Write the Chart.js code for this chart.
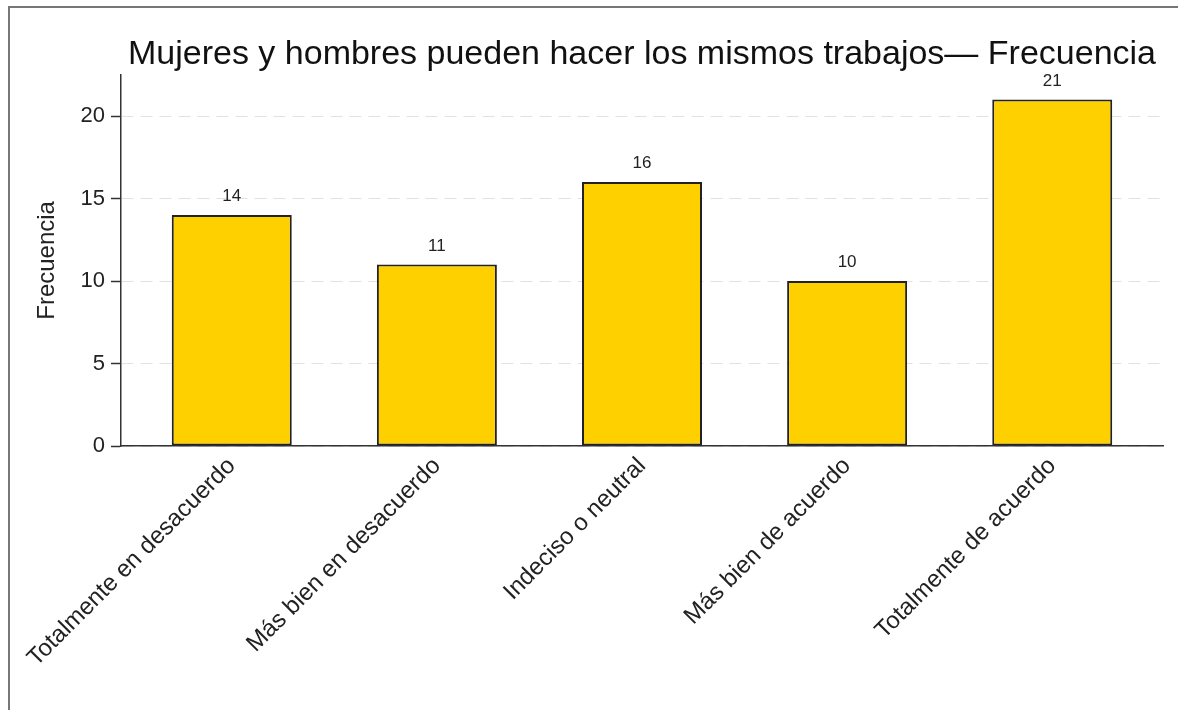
<!DOCTYPE html>
<html>
<head>
<meta charset="utf-8">
<script src="https://cdn.jsdelivr.net/npm/chart.js"></script>
<style>
    html, body { margin: 0; padding: 0; background: #fff; overflow: hidden; }
    .frame { position: absolute; left: 8px; top: 6px; width: 1200px; height: 740px; border: 2px solid #777; }
    .wrap { position: absolute; left: 0; top: 0; width: 1178px; height: 710px; }
</style>
</head>
<body>
<div class="frame"></div>
<div class="wrap"><canvas id="freqChart" width="1178" height="710"></canvas></div>

<script>
    const categories = ['Totalmente en desacuerdo', 'Más bien en desacuerdo', 'Indeciso o neutral', 'Más bien de acuerdo', 'Totalmente de acuerdo'];
    const counts = [14, 11, 16, 10, 21];
    const yTicks = [0, 5, 10, 15, 20];

    const FONT = "'Liberation Sans', Arial, sans-serif";

    // draws the count above each bar
    const valueLabels = {
        id: 'valueLabels',
        afterDatasetsDraw(chart) {
            const ctx = chart.ctx;
            const meta = chart.getDatasetMeta(0);
            ctx.save();
            ctx.font = '17px ' + FONT;
            ctx.fillStyle = '#222';
            ctx.textAlign = 'center';
            ctx.textBaseline = 'bottom';
            meta.data.forEach((bar, i) => {
                ctx.fillText(String(counts[i]), bar.x, bar.y - 10);
            });
            ctx.restore();
        }
    };

    const ctx = document.getElementById('freqChart');
    new Chart(ctx, {
        type: 'bar',
        data: {
            datasets: [{
                data: counts.map((v, i) => ({ x: i, y: v })),
                backgroundColor: '#FFD000',
                borderColor: '#222',
                borderWidth: 2,
                borderSkipped: false,
                categoryPercentage: 1,
                barPercentage: 0.585
            }]
        },
        options: {
            responsive: false,
            animation: false,
            layout: { padding: { left: 0, right: 15, top: 0, bottom: 0 } },
            plugins: {
                legend: { display: false },
                tooltip: { enabled: false },
                title: {
                    display: true,
                    fullSize: false,
                    text: 'Mujeres y hombres pueden hacer los mismos trabajos— Frecuencia',
                    color: '#111',
                    font: { family: FONT, size: 34, weight: 'normal' },
                    padding: { top: 34, bottom: 0 }
                }
            },
            scales: {
                x: {
                    type: 'linear',
                    offset: false,
                    min: -0.54,
                    max: 4.54,
                    afterFit(scale) { scale.height = 264; },
                    afterBuildTicks(scale) { scale.ticks = categories.map((c, i) => ({ value: i })); },
                    ticks: {
                        autoSkip: false,
                        maxRotation: 45,
                        minRotation: 45,
                        padding: 6,
                        color: '#222',
                        font: { family: FONT, size: 24 },
                        callback: (v) => categories[v]
                    },
                    grid: { display: false, drawTicks: false },
                    border: { display: true, color: '#333', width: 1.5 }
                },
                y: {
                    min: 0,
                    max: 22.5,
                    afterFit(scale) { scale.width = 121; },
                    afterBuildTicks(scale) { scale.ticks = yTicks.map(v => ({ value: v })); },
                    ticks: {
                        color: '#222',
                        padding: 6,
                        font: { family: FONT, size: 22 }
                    },
                    grid: {
                        color: '#e2e2e2',
                        lineWidth: 1,
                        tickLength: 10,
                        tickColor: '#333',
                        tickWidth: 1.5,
                        tickBorderDash: [],
                        drawOnChartArea: true
                    },
                    border: { display: true, color: '#333', width: 1.5, dash: [12, 7] },
                    title: {
                        display: true,
                        text: 'Frecuencia',
                        color: '#222',
                        font: { family: FONT, size: 24 },
                        padding: { top: 33, bottom: 0 }
                    }
                }
            }
        },
        plugins: [valueLabels]
    });
</script>
</body>
</html>
